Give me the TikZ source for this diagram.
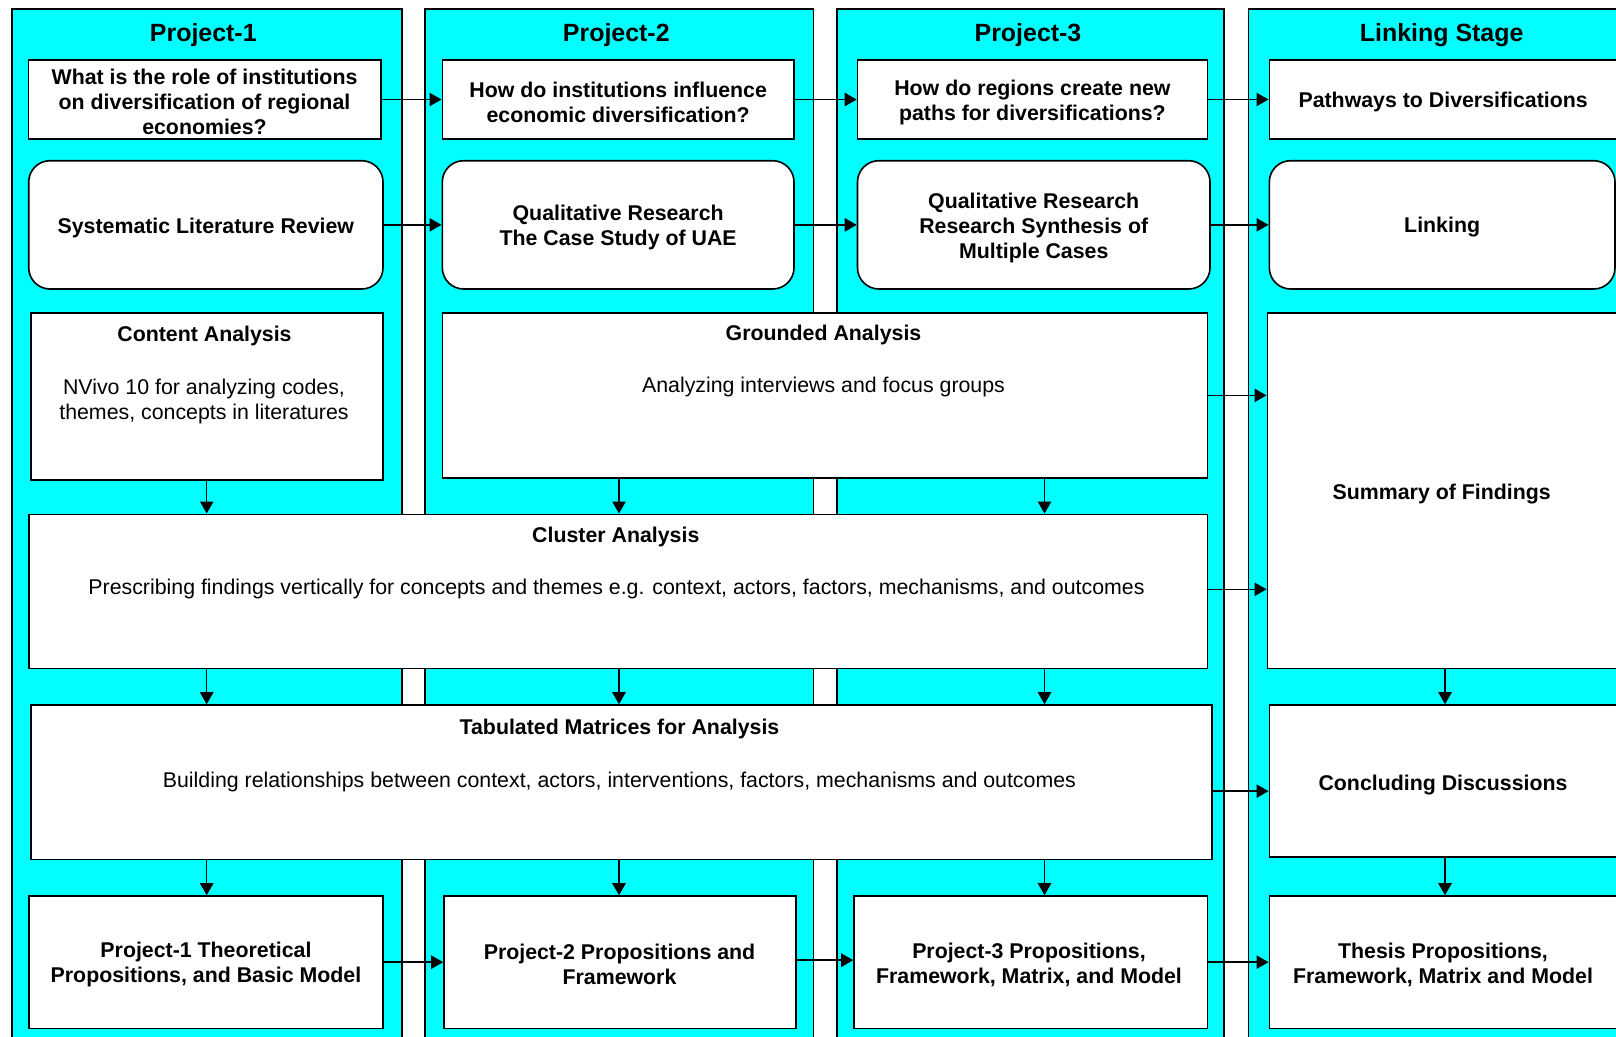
\documentclass[tikz,border=0pt]{standalone}
\usepackage{fontspec}
\setmainfont{Liberation Sans}
\usetikzlibrary{arrows.meta,fit}
\definecolor{lane}{RGB}{0,255,255}
\tikzset{
  lanebox/.style={draw=black, line width=1.2pt, fill=lane, inner sep=0pt},
  box/.style={draw=black, line width=1.2pt, fill=white, inner sep=0pt},
  roundbox/.style={box, rounded corners=16pt},
  head/.style={font=\bfseries\fontsize{18.7}{22}\selectfont, inner sep=0pt, yshift=-2pt},
  ttl/.style={font=\bfseries\fontsize{16}{18.75}\selectfont, align=center, inner sep=0pt, yshift=-2pt},
  body/.style={font=\fontsize{16}{18.75}\selectfont, align=center, inner sep=0pt, yshift=-2pt},
  arr/.style={-{Triangle[length=9pt,width=10pt]}, line width=1.1pt},
}
\begin{document}
\begin{tikzpicture}[x=0.75pt, y=-0.75pt]
\useasboundingbox (0,0) rectangle (1616,1036);
\clip (0,0) rectangle (1616,1036);
\fill[white] (0,0) rectangle (1616,1036);

% swim lanes
\node[lanebox, fit={(12,9) (401.7,1050)}] (lane1) {};
\node[lanebox, fit={(425,9) (813.3,1050)}] (lane2) {};
\node[lanebox, fit={(836.7,9) (1224,1050)}] (lane3) {};
\node[lanebox, fit={(1248.3,9) (1640,1050)}] (lane4) {};

\node[head] (h1) at (203.3,32) {Project-1};
\node[head] (h2) at (616.3,32) {Project-2};
\node[head] (h3) at (1028,32) {Project-3};
\node[head] (h4) at (1441.7,32) {Linking Stage};

% column positions of the vertical connectors
\coordinate (c1) at (206.7,0);
\coordinate (c2) at (619,0);
\coordinate (c3) at (1044.5,0);
\coordinate (c4) at (1445,0);

% research questions
\node[box, fit={(28.3,60) (380.7,139)}] (q1) {};
\node[ttl] (q1t) at (q1.center) {What is the role of institutions\\on diversification of regional\\economies?};
\node[box, fit={(442.3,60) (794,139)}] (q2) {};
\node[ttl] (q2t) at (q2.center) {How do institutions influence\\economic diversification?};
\node[box, fit={(857.5,60) (1207.3,139)}] (q3) {};
\node[ttl] (q3t) at (q3.center) {How do regions create new\\paths for diversifications?};
\node[box, fit={(1269.3,60) (1617,139)}] (q4) {};
\node[ttl] (q4t) at (q4.center) {Pathways to Diversifications};

% methods
\node[roundbox, fit={(28.7,160.7) (383,289)}] (r1) {};
\node[ttl] (r1t) at (r1.center) {Systematic Literature Review};
\node[roundbox, fit={(442.3,160.7) (794,289)}] (r2) {};
\node[ttl] (r2t) at (r2.center) {Qualitative Research\\The Case Study of UAE};
\node[roundbox, fit={(857.5,160.7) (1210,289)}] (r3) {};
\node[ttl] (r3t) at (r3.center) {Qualitative Research\\Research Synthesis of\\Multiple Cases};
\node[roundbox, fit={(1269.3,160.7) (1615,289)}] (r4) {};
\node[ttl] (r4t) at (r4.center) {Linking};

% analysis stages
\node[box, fit={(30.7,312.7) (382.7,480)}] (ca) {};
\node[ttl] (caT) at (204.5,333.3) {Content Analysis};
\node[body] (caB) at (204,398.5) {NVivo 10 for analyzing codes,\\themes, concepts in literatures};

\node[box, fit={(442.3,312.7) (1207.3,478)}] (ga) {};
\node[ttl] (gaT) at (823.5,332) {Grounded Analysis};
\node[body] (gaB) at (823.5,384.4) {Analyzing interviews and focus groups};

\node[box, fit={(1267.3,312.7) (1617,668.3)}] (sum) {};
\node[ttl] (sumt) at (1441.7,491) {Summary of Findings};

\node[box, fit={(29,514.3) (1207.3,668.3)}] (cl) {};
\node[ttl] (clT) at (615.8,534.3) {Cluster Analysis};
\node[body] (clB) at (616.5,586.7) {Prescribing findings vertically for concepts and themes e.g. context, actors, factors, mechanisms, and outcomes};

\node[box, fit={(30.7,705) (1211.7,859.3)}] (tab) {};
\node[ttl] (tabT) at (619.5,726.6) {Tabulated Matrices for Analysis};
\node[body] (tabB) at (619.4,779.3) {Building relationships between context, actors, interventions, factors, mechanisms and outcomes};

\node[box, fit={(1269.3,705) (1617,856.7)}] (conc) {};
\node[ttl] (conct) at (1443,782) {Concluding Discussions};

% outcomes
\node[box, fit={(29,896) (382.7,1028.3)}] (o1) {};
\node[ttl] (o1t) at (206,962) {Project-1 Theoretical\\Propositions, and Basic Model};
\node[box, fit={(444,896) (796,1028.3)}] (o2) {};
\node[ttl] (o2t) at (619.5,962) {Project-2 Propositions and\\Framework};
\node[box, fit={(854,896) (1207.3,1028.3)}] (o3) {};
\node[ttl] (o3t) at (1029,962) {Project-3 Propositions,\\Framework, Matrix, and Model};
\node[box, fit={(1269.3,896) (1617,1028.3)}] (o4) {};
\node[ttl] (o4t) at (1443,962) {Thesis Propositions,\\Framework, Matrix and Model};

% horizontal connectors
\draw[arr] (q1.east) -- (q2.west);
\draw[arr] (q2.east) -- (q3.west);
\draw[arr] (q3.east) -- (q4.west);
\draw[arr] (r1.east) -- (r2.west);
\draw[arr] (r2.east) -- (r3.west);
\draw[arr] (r3.east) -- (r4.west);
\draw[arr] (ga.east) -- (ga.east -| sum.west);
\draw[arr] ([yshift=1.5pt]cl.east) -- ([yshift=1.5pt]cl.east -| sum.west);
\draw[arr] ([yshift=-6.75pt]tab.east) -- ([yshift=-6.75pt]tab.east -| conc.west);
\draw[arr] (o1.east) -- (o2.west);
\draw[arr] ([yshift=1.5pt]o2.east) -- ([yshift=1.5pt]o2.east -| o3.west);
\draw[arr] (o3.east) -- (o4.west);

% vertical connectors
\draw[arr] (ca.south -| c1) -- (cl.north -| c1);
\draw[arr] (ga.south -| c2) -- (cl.north -| c2);
\draw[arr] (ga.south -| c3) -- (cl.north -| c3);
\draw[arr] (cl.south -| c1) -- (tab.north -| c1);
\draw[arr] (cl.south -| c2) -- (tab.north -| c2);
\draw[arr] (cl.south -| c3) -- (tab.north -| c3);
\draw[arr] (tab.south -| c1) -- (o1.north -| c1);
\draw[arr] (tab.south -| c2) -- (o2.north -| c2);
\draw[arr] (tab.south -| c3) -- (o3.north -| c3);
\draw[arr] (sum.south -| c4) -- (conc.north -| c4);
\draw[arr] (conc.south -| c4) -- (o4.north -| c4);
\end{tikzpicture}
\end{document}
